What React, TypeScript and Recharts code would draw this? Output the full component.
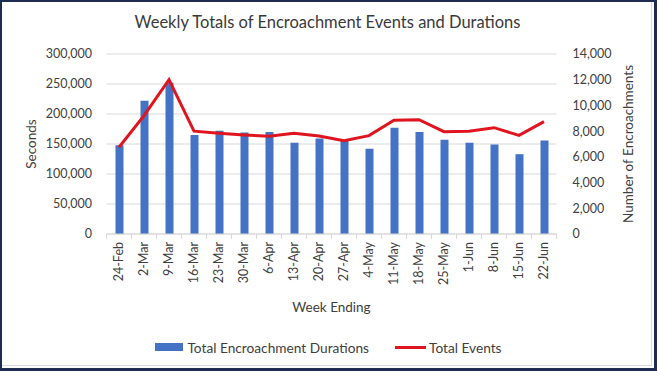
import { ComposedChart, Bar, Line, XAxis, YAxis, CartesianGrid, Legend } from "recharts";

const WEEKS = [
  "24-Feb", "2-Mar", "9-Mar", "16-Mar", "23-Mar", "30-Mar", "6-Apr", "13-Apr", "20-Apr",
  "27-Apr", "4-May", "11-May", "18-May", "25-May", "1-Jun", "8-Jun", "15-Jun", "22-Jun",
];
const DURATIONS = [
  148000, 222000, 252000, 165000, 172000, 169000, 170000, 152000, 159000,
  155000, 142000, 177000, 170000, 157000, 152000, 149000, 133000, 156000,
];
const EVENTS = [
  6750, 9200, 12000, 8000, 7830, 7700, 7600, 7830, 7620,
  7260, 7650, 8840, 8890, 7960, 8000, 8270, 7670, 8740,
];
const SECONDS_TICKS = [0, 50000, 100000, 150000, 200000, 250000, 300000];
const EVENT_TICKS = [0, 2000, 4000, 6000, 8000, 10000, 12000, 14000];

const data = WEEKS.map((week, i) => ({ week, durations: DURATIONS[i], events: EVENTS[i] }));

const FONT = "Lato, 'Open Sans', sans-serif";
const TEXT = "#404040";
const GRID = "#D9D9D9";
const BLUE = "#4472C4";
const RED = "#E0141E";

const fmt = (v: number) => v.toLocaleString("en-US");

const WeekTick = (props: any) => {
  const { x, y, payload, index } = props;
  const half = 12.5;
  return (
    <g>
      <line x1={x - half} y1={y - 8} x2={x - half} y2={y - 3} stroke={GRID} />
      {index === WEEKS.length - 1 && (
        <line x1={x + half} y1={y - 8} x2={x + half} y2={y - 3} stroke={GRID} />
      )}
      <text
        x={x}
        y={y}
        dy={4}
        transform={`rotate(-90, ${x}, ${y})`}
        textAnchor="end"
        fontSize={12.5}
        fill={TEXT}
        fontFamily={FONT}
      >
        {payload.value}
      </text>
    </g>
  );
};

const renderLegend = () => (
  <div
    style={{
      display: "flex",
      justifyContent: "center",
      alignItems: "center",
      fontFamily: FONT,
      fontSize: 13.7,
      color: TEXT,
      height: 20,
    }}
  >
    <span style={{ display: "inline-block", width: 28, height: 8, background: BLUE, marginRight: 4 }} />
    <span>Total Encroachment Durations</span>
    <span style={{ display: "inline-block", width: 31, height: 3, background: RED, marginLeft: 26, marginRight: 3 }} />
    <span>Total Events</span>
  </div>
);

export default function App() {
  return (
    <div style={{ position: "absolute", left: 0, top: 0, width: 657, height: 380, background: "#fff" }}>
      <div
        style={{
          position: "absolute",
          left: 0,
          top: 0,
          width: 657,
          height: 371,
          boxSizing: "border-box",
          borderTop: "2px solid #1E2B52",
          borderLeft: "2px solid #1E2B52",
          borderRight: "3px solid #1E2B52",
          borderBottom: "3px solid #1E2B52",
        }}
      >
        <div
          style={{
            position: "absolute",
            right: 2,
            bottom: 2,
            left: 0,
            top: 0,
            borderRight: "1px solid #D6DAE6",
            borderBottom: "1px solid #D6DAE6",
          }}
        />
      </div>
      <div
        style={{
          position: "absolute",
          top: 12,
          left: 0,
          width: 655,
          textAlign: "center",
          fontFamily: FONT,
          fontSize: 16.5,
          color: "#3A3A3A",
        }}
      >
        Weekly Totals of Encroachment Events and Durations
      </div>
      <div style={{ position: "absolute", left: 0, top: 0 }}>
        <ComposedChart
          width={657}
          height={380}
          data={data}
          margin={{ top: 54, right: 0, left: 0, bottom: 46 }}
        >
          <CartesianGrid yAxisId="left" vertical={false} stroke={GRID} />
          <XAxis
            dataKey="week"
            interval={0}
            height={80}
            tickLine={false}
            axisLine={{ stroke: GRID }}
            tick={<WeekTick />}
            tickMargin={2}
            label={{
              value: "Week Ending",
              position: "insideBottom",
              offset: 2,
              fill: TEXT,
              fontSize: 13.5,
              fontFamily: FONT,
            }}
          />
          <YAxis
            yAxisId="left"
            width={106.5}
            domain={[0, 300000]}
            ticks={SECONDS_TICKS}
            tickFormatter={fmt}
            axisLine={false}
            tickLine={false}
            tickMargin={8.5}
            tick={{ fill: TEXT, fontSize: 12.5, fontFamily: FONT }}
            label={{
              value: "Seconds",
              angle: -90,
              position: "insideLeft",
              offset: 31,
              fill: TEXT,
              fontSize: 13.5,
              fontFamily: FONT,
              style: { textAnchor: "middle" },
            }}
          />
          <YAxis
            yAxisId="right"
            orientation="right"
            width={100.5}
            domain={[0, 14000]}
            ticks={EVENT_TICKS}
            tickFormatter={fmt}
            axisLine={false}
            tickLine={false}
            tickMargin={10}
            tick={{ fill: TEXT, fontSize: 12.5, fontFamily: FONT, textAnchor: "start" }}
            label={{
              value: "Number of Encroachments",
              angle: -90,
              position: "insideRight",
              offset: 29,
              fill: TEXT,
              fontSize: 13.5,
              fontFamily: FONT,
              style: { textAnchor: "middle" },
            }}
          />
          <Legend verticalAlign="bottom" height={20} content={renderLegend} wrapperStyle={{ top: 337, bottom: "auto" }} />
          <Bar
            yAxisId="left"
            dataKey="durations"
            name="Total Encroachment Durations"
            fill={BLUE}
            barSize={8}
            isAnimationActive={false}
          />
          <Line
            yAxisId="right"
            dataKey="events"
            name="Total Events"
            stroke={RED}
            strokeWidth={3}
            dot={false}
            type="linear"
            isAnimationActive={false}
          />
        </ComposedChart>
      </div>
    </div>
  );
}
